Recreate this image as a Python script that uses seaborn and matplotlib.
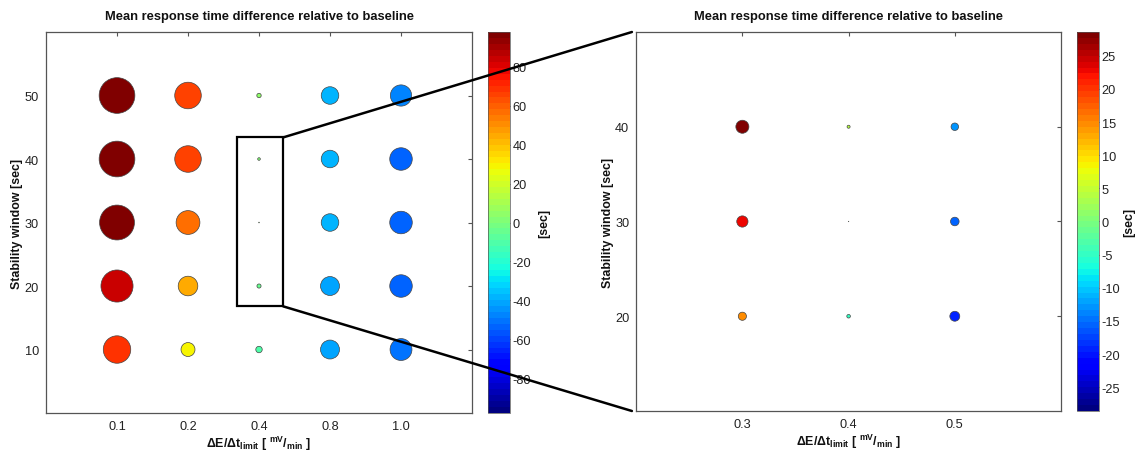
import numpy as np
import pandas as pd
import matplotlib
matplotlib.use("Agg")
import matplotlib.pyplot as plt
import seaborn as sns
from matplotlib.patches import Rectangle, ConnectionPatch
from matplotlib.cm import ScalarMappable
from matplotlib.colors import Normalize

# ---------------- data ----------------
left_rate_labels = ["0.1", "0.2", "0.4", "0.8", "1.0"]
left_windows = [10, 20, 30, 40, 50]
left_w10 = [69, 28, -10, -42, -51]
left_w20 = [85, 44, -5.5, -42, -53]
left_w30 = [95, 57, 0.5, -38, -53]
left_w40 = [98, 66, 3, -38, -53]
left_w50 = [98, 66, 6, -38, -49]
left_cbar_ticks = [-80, -60, -40, -20, 0, 20, 40, 60, 80]

right_rates = [0.3, 0.4, 0.5]
right_windows = [20, 30, 40]
right_w20 = [15, -5, -19.5]
right_w30 = [23, 0.3, -16]
right_w40 = [28, 4, -13.4]
right_cbar_ticks = [-25, -20, -15, -10, -5, 0, 5, 10, 15, 20, 25]

title = "Mean response time difference relative to baseline"
ylabel = "Stability window [sec]"
xlabel = "ΔE/Δt$_{\\mathbf{limit}}$ [ $^{\\mathbf{mV}}$/$_{\\mathbf{min}}$ ]"
cbar_label = "[sec]"

# ---------------- frames ----------------
left_rows = [left_w10, left_w20, left_w30, left_w40, left_w50]
left_df = pd.DataFrame(
    [(lab, w, v) for w, row in zip(left_windows, left_rows)
     for lab, v in zip(left_rate_labels, row)],
    columns=["rate", "window", "diff"])
left_df["mag"] = left_df["diff"].abs() ** 1.5

right_rows = [right_w20, right_w30, right_w40]
right_df = pd.DataFrame(
    [(r, w, v) for w, row in zip(right_windows, right_rows)
     for r, v in zip(right_rates, row)],
    columns=["rate", "window", "diff"])
right_df["mag"] = right_df["diff"].abs() ** 1.5

# ---------------- style ----------------
sns.set_style("white")
plt.rcParams["font.family"] = ["Liberation Sans", "DejaVu Sans"]
plt.rcParams["mathtext.fontset"] = "custom"
plt.rcParams["mathtext.rm"] = "Liberation Sans"
plt.rcParams["mathtext.bf"] = "Liberation Sans:bold"
plt.rcParams["mathtext.it"] = "Liberation Sans:italic"
plt.rcParams["axes.unicode_minus"] = False

jet = matplotlib.colormaps["jet"].resampled(64)
spine_col = "#555555"
text_col = "#222222"
tick_fs = 9.2
lab_fs = 8.9

fig = plt.figure(figsize=(11.36, 4.52), dpi=100)
ax1 = fig.add_axes([0.0405, 0.084, 0.375, 0.843])
cax1 = fig.add_axes([0.4296, 0.084, 0.0194, 0.843])
ax2 = fig.add_axes([0.560, 0.0885, 0.374, 0.8385])
cax2 = fig.add_axes([0.9485, 0.0885, 0.019, 0.8385])

lim1 = 98.0
lim2 = 28.6

sns.scatterplot(data=left_df, x="rate", y="window", hue="diff", size="mag",
                palette=jet, hue_norm=(-lim1, lim1),
                sizes=(0, 661), size_norm=(0, 98 ** 1.5),
                edgecolor="#444444", linewidth=0.5, legend=False, ax=ax1)
sns.scatterplot(data=right_df, x="rate", y="window", hue="diff", size="mag",
                palette=jet, hue_norm=(-lim2, lim2),
                sizes=(0, 88), size_norm=(0, 28 ** 1.5),
                edgecolor="#444444", linewidth=0.5, legend=False, ax=ax2)

ax1.set_xlim(-1, 5)
ax1.set_ylim(0, 60)
ax1.set_yticks(left_windows)
ax2.set_xlim(0.2, 0.6)
ax2.set_ylim(10, 50)
ax2.set_xticks(right_rates)
ax2.set_xticklabels([f"{r:.1f}" for r in right_rates])
ax2.set_yticks(right_windows)

for ax in (ax1, ax2):
    ax.set_title(title, fontsize=9.3, fontweight="bold", color="#111111", pad=9)
    ax.set_xlabel(xlabel, fontsize=lab_fs, fontweight="bold", color="#111111", labelpad=1)
    ax.set_ylabel(ylabel, fontsize=lab_fs, fontweight="bold", color="#111111", labelpad=1)
    ax.tick_params(direction="in", length=3, width=0.8, top=True, right=True,
                   labelsize=tick_fs, labelcolor=text_col, color=spine_col, pad=5)
    for s in ax.spines.values():
        s.set_color(spine_col)
        s.set_linewidth(0.9)
    ax.grid(False)

for cax, lim, ticks, lp in ((cax1, lim1, left_cbar_ticks, 5),
                            (cax2, lim2, right_cbar_ticks, 2)):
    sm = ScalarMappable(norm=Normalize(-lim, lim), cmap=jet)
    cb = fig.colorbar(sm, cax=cax, ticks=ticks)
    cb.outline.set_linewidth(0.5)
    cb.outline.set_edgecolor(spine_col)
    cax.tick_params(direction="in", length=3, width=0.8, labelsize=tick_fs,
                    labelcolor=text_col, color=spine_col, pad=2)
    cb.set_label(cbar_label, fontsize=lab_fs, fontweight="bold", color="#111111", labelpad=lp)

# zoom rectangle and connector lines
ax1.add_patch(Rectangle((1.69, 16.8), 0.65, 26.6, fill=False, lw=1.6,
                        ec="black", zorder=5))
for yA, yB in ((43.4, 1.0), (16.8, 0.0)):
    con = ConnectionPatch(xyA=(2.34, yA), coordsA=ax1.transData,
                          xyB=(-0.01, yB), coordsB=ax2.transAxes,
                          color="black", lw=1.8, zorder=10)
    fig.add_artist(con)

fig.savefig("out.png", dpi=100)
